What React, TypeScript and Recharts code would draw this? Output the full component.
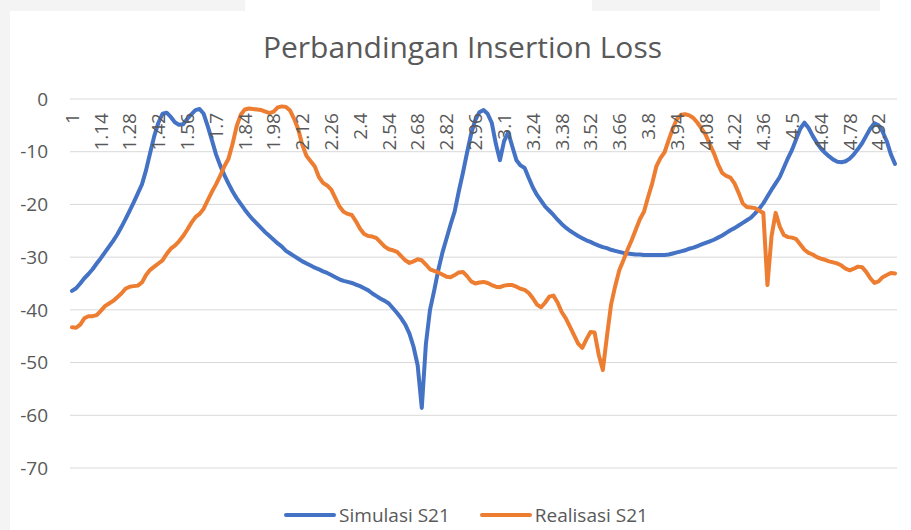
import React from 'react';
import { LineChart, Line, XAxis, YAxis, CartesianGrid, Legend } from 'recharts';

// Frequency categories (GHz): 1.00 .. 5.00, step 0.02
const frequencies: string[] = Array.from({ length: 201 }, (_, i) => String(Number((1 + i * 0.02).toFixed(2))));

const simulasiS21: number[] = [
  -36.4, -35.9, -35.0, -34.0, -33.2, -32.3, -31.2, -30.2, -29.1, -28.0,
  -26.9, -25.7, -24.3, -22.8, -21.2, -19.6, -17.9, -16.2, -13.5, -10.2,
  -7.0, -4.5, -2.8, -2.6, -3.4, -4.4, -4.9, -4.8, -3.8, -2.9,
  -2.1, -1.9, -2.8, -5.2, -7.8, -10.5, -12.6, -14.4, -16.0, -17.5,
  -18.8, -19.9, -21.0, -22.0, -22.9, -23.7, -24.5, -25.3, -26.0, -26.7,
  -27.4, -28.0, -28.8, -29.3, -29.8, -30.3, -30.8, -31.2, -31.6, -32.0,
  -32.3, -32.7, -33.0, -33.4, -33.8, -34.2, -34.5, -34.7, -34.9, -35.2,
  -35.5, -35.9, -36.3, -36.9, -37.4, -37.9, -38.3, -38.8, -39.7, -40.6,
  -41.6, -42.8, -44.5, -47.0, -50.5, -58.6, -46.5, -40.0, -36.4, -32.5,
  -29.2, -26.5, -23.8, -21.3, -17.5, -14.0, -10.2, -6.6, -4.0, -2.5,
  -2.1, -2.8, -4.5, -8.5, -11.6, -8.0, -6.3, -9.0, -11.6, -12.6,
  -13.1, -15.0, -16.8, -18.2, -19.3, -20.4, -21.2, -22.0, -22.9, -23.7,
  -24.4, -25.0, -25.5, -26.0, -26.4, -26.8, -27.1, -27.5, -27.8, -28.1,
  -28.3, -28.6, -28.8, -29.0, -29.2, -29.3, -29.4, -29.5, -29.5, -29.6,
  -29.6, -29.6, -29.6, -29.6, -29.6, -29.5, -29.3, -29.1, -28.9, -28.7,
  -28.4, -28.2, -27.9, -27.6, -27.3, -27.0, -26.7, -26.3, -25.9, -25.4,
  -24.9, -24.5, -24.0, -23.5, -23.0, -22.5, -21.7, -20.8, -19.8, -18.5,
  -17.2, -16.0, -14.8, -13.0, -11.2, -9.6, -7.6, -5.6, -4.5, -5.5,
  -7.0, -8.3, -9.4, -10.2, -10.9, -11.5, -11.9, -12.0, -11.8, -11.3,
  -10.5, -9.5, -8.4, -7.0, -5.6, -4.6, -5.0, -6.2, -8.0, -10.5,
  -12.3,
];

const realisasiS21: number[] = [
  -43.3, -43.4, -42.8, -41.6, -41.2, -41.2, -41.0, -40.2, -39.3, -38.8,
  -38.3, -37.6, -36.9, -36.0, -35.6, -35.5, -35.4, -34.8, -33.4, -32.4,
  -31.8, -31.2, -30.6, -29.4, -28.4, -27.8, -27.0, -26.0, -24.8, -23.5,
  -22.4, -21.8, -20.8, -19.2, -17.6, -16.2, -14.6, -12.8, -11.4, -8.6,
  -5.2, -3.0, -2.0, -1.8, -1.9, -2.0, -2.1, -2.4, -2.7, -2.4,
  -1.6, -1.4, -1.5, -2.2, -3.8, -5.8, -8.8, -10.8, -11.8, -12.8,
  -14.8, -15.9, -16.4, -17.2, -18.8, -20.4, -21.4, -21.8, -22.0, -23.2,
  -24.6, -25.6, -26.0, -26.1, -26.4, -27.2, -28.0, -28.5, -28.7, -29.0,
  -29.8, -30.6, -31.1, -30.8, -30.4, -30.6, -31.4, -32.3, -32.6, -32.9,
  -33.3, -33.7, -33.8, -33.4, -32.9, -32.8, -33.6, -34.6, -35.0, -34.8,
  -34.7, -34.9, -35.3, -35.6, -35.7, -35.4, -35.3, -35.3, -35.6, -36.0,
  -36.2, -36.8, -37.8, -39.0, -39.5, -38.6, -37.5, -37.3, -38.6, -40.4,
  -41.6, -43.2, -44.8, -46.4, -47.2, -45.6, -44.2, -44.3, -48.5, -51.4,
  -45.0, -39.0, -35.5, -32.5, -30.6, -28.6, -26.8, -24.8, -22.8, -21.4,
  -18.6, -16.0, -12.8, -11.2, -10.1, -7.8, -5.6, -3.8, -3.0, -2.9,
  -3.1, -3.6, -4.5, -5.6, -6.8, -8.6, -10.3, -12.4, -14.0, -14.6,
  -14.9, -16.0, -17.8, -19.8, -20.5, -20.6, -20.7, -21.2, -21.6, -35.3,
  -26.0, -21.6, -24.2, -25.8, -26.2, -26.3, -26.6, -27.6, -28.6, -29.2,
  -29.5, -30.0, -30.3, -30.5, -30.8, -31.0, -31.2, -31.6, -32.2, -32.5,
  -32.2, -31.8, -31.9, -32.8, -34.0, -34.9, -34.6, -33.8, -33.4, -33.0,
  -33.1,
];

const yTicks: number[] = [0, -10, -20, -30, -40, -50, -60, -70];

const chartTitle = 'Perbandingan Insertion Loss';
const seriesNames = ['Simulasi S21', 'Realisasi S21'];

const data = frequencies.map((f, i) => ({
  freq: f,
  sim: simulasiS21[i],
  real: realisasiS21[i],
}));

const FONT = '"Open Sans", sans-serif';
const TEXT = '#595959';
const BLUE = '#4472C4';
const ORANGE = '#ED7D31';
const seriesColors = [BLUE, ORANGE];

const XTick = (props: any) => {
  const { x, payload } = props;
  const y0 = 113;
  return (
    <text
      x={x}
      y={y0}
      transform={`rotate(-90, ${x}, ${y0})`}
      textAnchor="end"
      dy="0.36em"
      fill={TEXT}
      fontSize={19}
      fontFamily={FONT}
    >
      {payload.value}
    </text>
  );
};

const LegendContent = () => {
  return (
    <div
      style={{
        display: 'flex',
        justifyContent: 'center',
        alignItems: 'center',
        height: 26,
        paddingLeft: 25,
        fontFamily: FONT,
        fontSize: 19,
        color: TEXT,
      }}
    >
      {seriesNames.map((name, i) => (
        <div key={name} style={{ display: 'flex', alignItems: 'center', marginRight: i === 0 ? 30 : 0 }}>
          <div style={{ width: 52, height: 4, background: seriesColors[i], borderRadius: 2, marginRight: 3 }} />
          <span>{name}</span>
        </div>
      ))}
    </div>
  );
};

export default function App() {
  return (
    <div style={{ position: 'absolute', left: 0, top: 0, width: 911, height: 530, background: '#f4f4f4', overflow: 'hidden' }}>
      <div style={{ position: 'absolute', left: 10, top: 11, width: 901, height: 519, background: '#ffffff' }} />
      <div style={{ position: 'absolute', left: 245, top: 0, width: 347, height: 12, background: '#ffffff' }} />
      <div style={{ position: 'absolute', left: 880, top: 0, width: 31, height: 12, background: '#ffffff' }} />
      <div style={{ position: 'absolute', left: 0, top: 0 }}>
        <LineChart
          width={911}
          height={530}
          data={data}
          margin={{ top: 98, right: 14, bottom: 36, left: 10 }}
        >
          <CartesianGrid vertical={false} stroke="#d9d9d9" strokeWidth={1} />
          <XAxis
            dataKey="freq"
            orientation="top"
            height={1}
            interval={6}
            axisLine={false}
            tickLine={false}
            tick={<XTick />}
            padding={{ left: 2, right: 2 }}
          />
          <YAxis
            domain={[-70, 0]}
            ticks={yTicks}
            width={60}
            axisLine={false}
            tickLine={false}
            tickSize={0}
            tickMargin={22}
            interval={0}
            tick={{ fill: TEXT, fontSize: 19, fontFamily: FONT }}
          />
          <Legend
            verticalAlign="bottom"
            content={<LegendContent />}
            wrapperStyle={{ bottom: 2 }}
          />
          <Line
            type="linear"
            dataKey="sim"
            name={seriesNames[0]}
            stroke={BLUE}
            strokeWidth={4}
            dot={false}
            activeDot={false}
            strokeLinejoin="round"
            strokeLinecap="round"
            isAnimationActive={false}
          />
          <Line
            type="linear"
            dataKey="real"
            name={seriesNames[1]}
            stroke={ORANGE}
            strokeWidth={4}
            dot={false}
            activeDot={false}
            strokeLinejoin="round"
            strokeLinecap="round"
            isAnimationActive={false}
          />
        </LineChart>
      </div>
      <div
        style={{
          position: 'absolute',
          left: 14,
          top: 27,
          width: 897,
          textAlign: 'center',
          fontFamily: FONT,
          fontSize: 30,
          lineHeight: '40px',
          color: TEXT,
        }}
      >
        {chartTitle}
      </div>
    </div>
  );
}
